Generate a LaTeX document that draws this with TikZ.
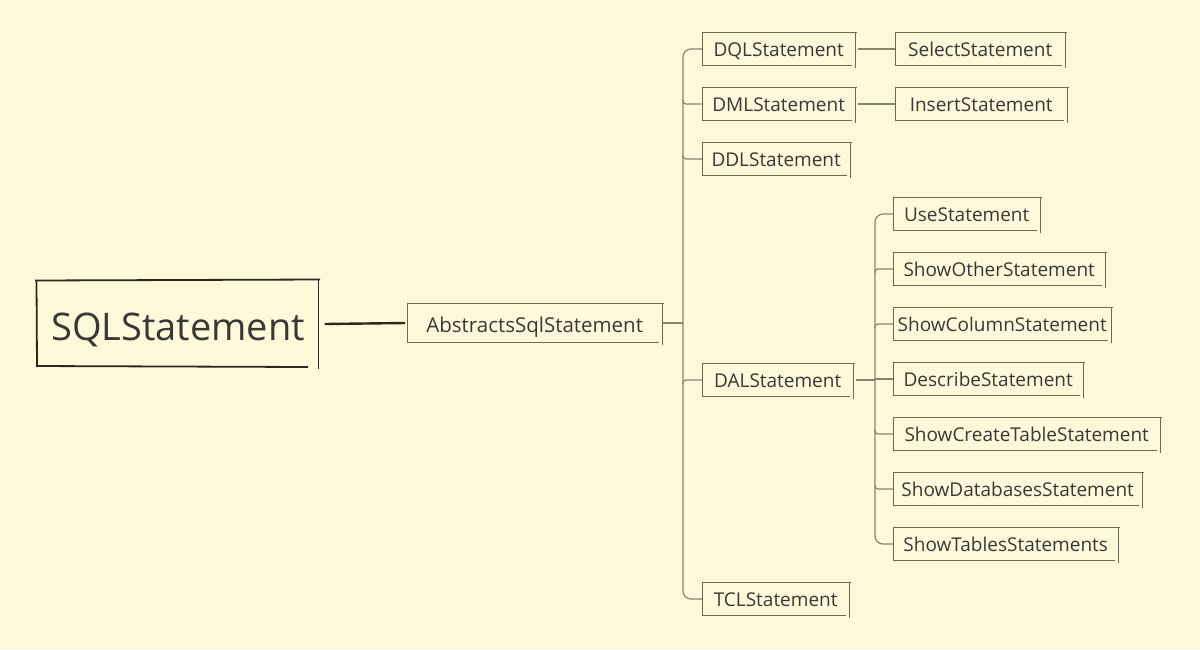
\documentclass[tikz,border=0pt]{standalone}
\usepackage{fontspec}
\setmainfont{Open Sans}
\definecolor{bg}{HTML}{FFF9DB}
\definecolor{txt}{HTML}{3A3835}
\definecolor{boxln}{HTML}{6E6857}
\definecolor{trunkln}{HTML}{8A8270}
\definecolor{dark}{HTML}{2B2820}
\newcommand{\sketchbox}[1]{%
  \draw[boxline] (#1.north west) -- ([xshift=1.5pt]#1.north east);
  \draw[boxline] ([yshift=0.5pt]#1.north east) -- ([yshift=-2.5pt]#1.south east);
  \draw[boxline] (#1.north west) -- (#1.south west) -- ([xshift=-3pt]#1.south east);}
\begin{document}
\begin{tikzpicture}[x=1pt,y=-1pt,
  box/.style={inner sep=0pt, minimum height=32pt, anchor=west, text=txt,
    font=\fontsize{19}{21}\selectfont, text height=15pt, text depth=0pt},
  boxline/.style={draw=boxln, line width=1pt},
  branch/.style={draw=trunkln, line width=1.2pt},
  big/.style={draw=dark, line width=1.8pt}]
\fill[bg] (0,0) rectangle (1200,649);
\useasboundingbox (0,0) rectangle (1200,649);

% root
\node[inner sep=0pt, minimum width=283pt, minimum height=86pt, text=txt,
  font=\fontsize{38}{42}\selectfont, text height=32pt, text depth=0pt] (sql) at (178,324) {SQLStatement};
\draw[big] (35,280.5) -- (320,279.5);
\draw[big] (318.5,279) -- (318.5,368.5);
\draw[big] (36.5,280) -- (37,367);
\draw[big] (36,366) -- (308,367);

\node[box, minimum width=255pt, minimum height=38pt, font=\fontsize{20.5}{23}\selectfont,
  text height=18pt] (abs) at (407,323) {AbstractsSqlStatement};
\sketchbox{abs}
\draw[draw=dark, line width=2.4pt] ([xshift=5pt]sql.east) -- ([xshift=-2pt]abs.west);

% level 2
\node[box, minimum width=153pt] (dql) at (702,49) {DQLStatement};
\node[box, minimum width=153pt] (dml) at (702,104) {DMLStatement};
\node[box, minimum width=148pt] (ddl) at (702,159) {DDLStatement};
\node[box, minimum width=151pt] (dal) at (702,380) {DALStatement};
\node[box, minimum width=147pt] (tcl) at (702,599) {TCLStatement};
\foreach \n in {dql,dml,ddl,dal,tcl} {\sketchbox{\n}}

\coordinate (tx) at (683,323);
\draw[branch, rounded corners=8pt] (dql.west) -| (tx) |- (tcl.west);
\draw[branch] (abs.east) -- (tx);
\draw[branch, rounded corners=3pt] ([yshift=4pt]tx |- dml.west) |- (dml.west);
\draw[branch, rounded corners=3pt] ([yshift=4pt]tx |- ddl.west) |- (ddl.west);
\draw[branch, rounded corners=3pt] ([yshift=-4pt]tx |- dal.west) |- (dal.west);

% level 3 (DQL, DML)
\node[box, minimum width=170pt] (sel) at (895,49) {SelectStatement};
\node[box, minimum width=172pt] (ins) at (895,104) {InsertStatement};
\sketchbox{sel}
\sketchbox{ins}
\draw[branch] ([xshift=3pt]dql.east) -- (sel.west);
\draw[branch] ([xshift=3pt]dml.east) -- (ins.west);

% level 3 (DAL)
\node[box, minimum width=147pt] (use) at (893,214) {UseStatement};
\node[box, minimum width=212pt] (sho) at (893,269) {ShowOtherStatement};
\node[box, minimum width=218pt] (shc) at (893,324) {ShowColumnStatement};
\node[box, minimum width=190pt] (des) at (893,379) {DescribeStatement};
\node[box, minimum width=267pt] (sct) at (893,434) {ShowCreateTableStatement};
\node[box, minimum width=249pt] (sdb) at (893,489) {ShowDatabasesStatement};
\node[box, minimum width=225pt] (stb) at (893,544) {ShowTablesStatements};
\foreach \n in {use,sho,shc,des,sct,sdb,stb} {\sketchbox{\n}}

\coordinate (sx) at (875,380);
\draw[branch, rounded corners=8pt] (use.west) -| (sx) |- (stb.west);
\draw[branch] ([xshift=3pt]dal.east) -- (sx);
\draw[branch, rounded corners=3pt] ([yshift=-4pt]sx |- sho.west) |- (sho.west);
\draw[branch, rounded corners=3pt] ([yshift=-4pt]sx |- shc.west) |- (shc.west);
\draw[branch] (sx |- des.west) -- (des.west);
\draw[branch, rounded corners=3pt] ([yshift=4pt]sx |- sct.west) |- (sct.west);
\draw[branch, rounded corners=3pt] ([yshift=4pt]sx |- sdb.west) |- (sdb.west);
\end{tikzpicture}
\end{document}
